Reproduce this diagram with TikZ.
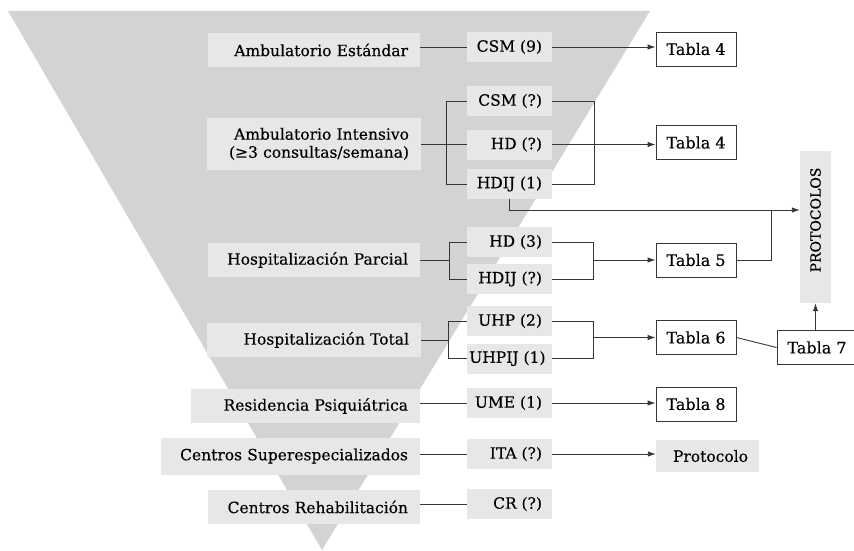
\documentclass[tikz,border=0pt]{standalone}
\usepackage{fontspec}
\setmainfont{DejaVu Serif}[FakeBold=0.3]
\usetikzlibrary{arrows.meta}
\definecolor{funnel}{RGB}{209,211,212}
\definecolor{boxgray}{RGB}{230,231,232}
\definecolor{ink}{RGB}{55,55,55}
% unit labels: right-aligned in a fixed column, overflowing to the left if needed
\newcommand\unitlabel[1]{\makebox[65pt][r]{#1}}
\begin{document}
\begin{tikzpicture}[x=1pt,y=-1pt,
  txt/.style={font=\fontsize{15.5}{18}\selectfont, text=black},
  level/.style={txt, fill=boxgray, inner sep=0pt, align=right},
  unit/.style={txt, fill=boxgray, inner sep=0pt, minimum width=85, minimum height=30},
  tabla/.style={font=\fontsize{16}{18}\selectfont, draw=ink, fill=white, line width=0.9pt, inner sep=0pt, minimum width=80, minimum height=34},
  link/.style={draw=ink, line width=0.9pt},
  arr/.style={link, -{Latex[length=8pt,width=5.5pt]}},
]
\useasboundingbox (0,0) rectangle (854,551);

% funnel of care levels
\fill[funnel] (8,11) -- (650,11) -- (322,550) -- cycle;

% care levels
\node[level, minimum width=212, text width=188pt, minimum height=34] (le) at (314,50) {Ambulatorio Estándar};
\node[level, minimum width=214, text width=190pt, minimum height=52] (li) at (314,144) {Ambulatorio Intensivo\\(≥3 consultas/semana)};
\node[level, minimum width=212, text width=188pt, minimum height=34] (lp) at (314,260) {Hospitalización Parcial};
\node[level, minimum width=214, text width=190pt, minimum height=34] (lt) at (314,340) {Hospitalización Total};
\node[level, minimum width=229, text width=205pt, minimum height=34] (lr) at (305.5,406) {Residencia Psiquiátrica};
\node[level, minimum width=259, text width=235pt, minimum height=37] (ls) at (290.5,456) {Centros Superespecializados};
\node[level, minimum width=212, text width=188pt, minimum height=34] (lc) at (314,507) {Centros Rehabilitación};

% units
\node[unit] (m1) at (509.5,47) {\unitlabel{CSM (9)}};
\node[unit] (m2) at (509.5,101) {\unitlabel{CSM (?)}};
\node[unit] (m3) at (509.5,144.5) {\unitlabel{HD (?)}};
\node[unit] (m4) at (509.5,184) {\unitlabel{HDIJ (1)}};
\node[unit] (m5) at (509.5,242) {\unitlabel{HD (3)}};
\node[unit] (m6) at (509.5,279) {\unitlabel{HDIJ (?)}};
\node[unit] (m7) at (509.5,321) {\unitlabel{UHP (2)}};
\node[unit] (m8) at (509.5,358.5) {\makebox[72pt][r]{UHPIJ (1)}};
\node[unit] (m9) at (509.5,403) {\unitlabel{UME (1)}};
\node[unit] (m10) at (509.5,454) {\unitlabel{ITA (?)}};
\node[unit] (m11) at (509.5,504) {\unitlabel{CR (?)}};

% tables
\node[tabla] (t1) at (696,49) {Tabla 4};
\node[tabla] (t2) at (696,142.5) {Tabla 4};
\node[tabla] (t3) at (696,260) {Tabla 5};
\node[tabla] (t4) at (696,337.5) {Tabla 6};
\node[tabla] (t5) at (696,404) {Tabla 8};
\node[tabla] (t7) at (817,347.5) {Tabla 7};
\node[txt, fill=boxgray, inner sep=0pt, minimum width=103, minimum height=32] (pc) at (707.5,456) {\hspace*{6pt}Protocolo};
\node[font=\fontsize{14}{16}\selectfont, fill=boxgray, inner sep=0pt, rotate=90, minimum width=152, minimum height=31] (pr) at (815.5,227) {\hspace*{14pt}PROTOCOLOS};

% bracket and junction positions
\coordinate (bi) at (446,0);
\coordinate (bo) at (594,0);
\coordinate (bp) at (449,0);
\coordinate (bq) at (593,0);
\coordinate (bt) at (448,0);
\coordinate (br) at (593,0);
\coordinate (jx) at (771,0);
\coordinate (ph) at (0,210);

% Ambulatorio Estandar
\draw[link] (le.east |- m1) -- (m1.west);
\draw[arr] (m1.east) -- (t1.west |- m1);

% Ambulatorio Intensivo
\draw[link] (li.east |- m3) -- (m3.west);
\draw[link] (m2.west) -- (bi |- m2) -- (bi |- m4) -- (m4.west);
\draw[link] (m2.east) -- (bo |- m2) -- (bo |- m4) -- (m4.east);
\draw[arr] (m3.east) -- (t2.west |- m3);
\draw[arr] (m4.south) |- (pr.north |- ph);

% Hospitalizacion Parcial
\draw[link] (lp.east) -- (bp |- lp);
\draw[link] (m5.west) -- (bp |- m5) -- (bp |- m6) -- (m6.west);
\draw[link] (m5.east) -- (bq |- m5) -- (bq |- m6) -- (m6.east);
\draw[arr] (bq |- t3) -- (t3.west);
\draw[link] (t3.east) -- (jx |- t3) -- (jx |- ph);

% Hospitalizacion Total
\draw[link] (lt.east) -- (bt |- lt);
\draw[link] (m7.west) -- (bt |- m7) -- (bt |- m8) -- (m8.west);
\draw[link] (m7.east) -- (br |- m7) -- (br |- m8) -- (m8.east);
\draw[arr] (br |- t4) -- (t4.west);
\draw[link] (t4.east) -- (t7.west);
\draw[arr] (pr.west |- t7.north) -- (pr.west);

% remaining levels
\draw[link] (lr.east |- m9) -- (m9.west);
\draw[arr] (m9.east) -- (t5.west |- m9);
\draw[link] (ls.east |- m10) -- (m10.west);
\draw[arr] (m10.east) -- (pc.west |- m10);
\draw[link] (lc.east |- m11) -- (m11.west);
\end{tikzpicture}
\end{document}
